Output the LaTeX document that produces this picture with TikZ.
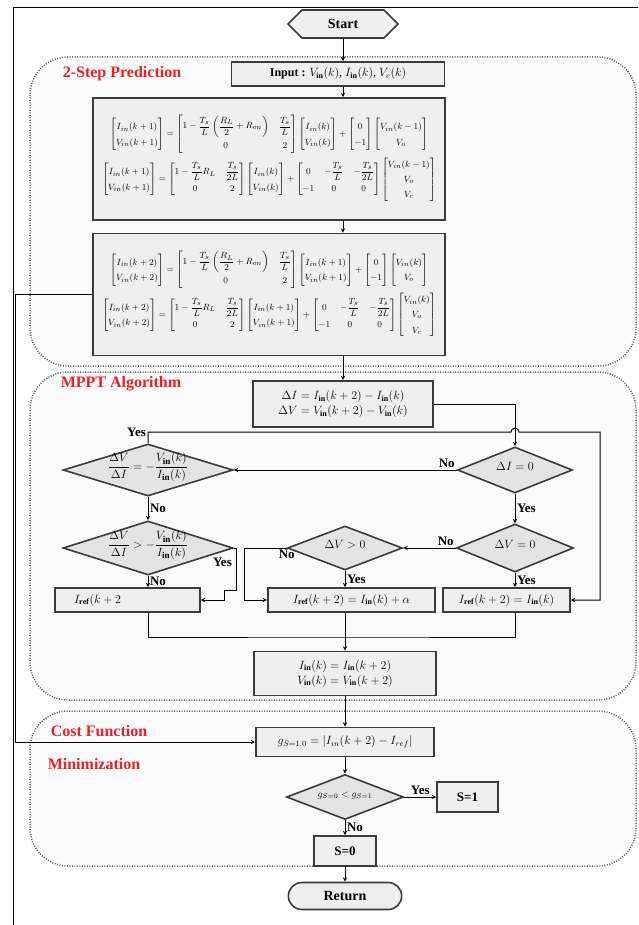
\documentclass[tikz,border=0pt]{standalone}
\usepackage{amsmath}
\usepackage{fontspec}
\setmainfont{Liberation Serif}
\usetikzlibrary{shapes, arrows, calc}

\definecolor{boxcol}{HTML}{EFEFEF}
\definecolor{diacol}{HTML}{E4E4E4}
\definecolor{zonecol}{HTML}{FBFBFB}
\definecolor{edgecol}{HTML}{3A3A3A}
\definecolor{labcol}{HTML}{E8202A}
\tikzstyle{zone} = [draw=gray!75!black, line width=1.5pt, dash pattern=on 1pt off 1.5pt, rounded corners=38pt, fill=zonecol]
\tikzstyle{proc} = [rectangle, draw=edgecol, line width=1.6pt, fill=boxcol, inner sep=2pt, align=center, font=\fontsize{12}{15}\selectfont]
\tikzstyle{eqn} = [proc, minimum width=352pt, minimum height=122pt, font=\fontsize{9.5}{11}\selectfont, execute at begin node={\renewcommand{\arraystretch}{1.4}}]
\tikzstyle{decision} = [diamond, draw=edgecol, line width=1.6pt, fill=diacol, inner sep=0pt, font=\fontsize{13}{15}\selectfont]
\tikzstyle{term} = [draw=edgecol, line width=1.6pt, fill=boxcol, minimum width=110pt, minimum height=28pt, font=\fontsize{14}{16}\selectfont\bfseries]
\tikzstyle{lbl} = [text=labcol, font=\fontsize{16}{18}\selectfont\bfseries]
\tikzstyle{yn} = [font=\fontsize{13}{15}\selectfont\bfseries, inner sep=1.5pt]
\tikzstyle{arrow} = [line width=1pt,->,>=stealth]
\tikzstyle{line} = [line width=1pt]
\newcommand{\dtext}[1]{\smash{\makebox[0pt]{#1}}}

\begin{document}
\begin{tikzpicture}[x=1pt, y=-1pt, node distance=50pt]
\useasboundingbox (0,0) rectangle (638,925);

%Frame and zones
\draw [line] (13,925) -- (13,8) -- (638,8);
\draw [zone] (30,57) rectangle (636,366);
\draw [zone] (30,372) rectangle (636,700);
\draw [zone] (30,711) rectangle (636,866);

%2-Step Prediction
\node (start) [term, signal, signal to=west and east] at (343,24) {Start};
\node (input) [proc, below of=start, xshift=-5pt, minimum width=213pt, minimum height=24pt] {\textbf{Input :} $V_{\mathbf{in}}(k)$, $I_{\mathbf{in}}(k)$, $V_e(k)$};
\node (lpred) [lbl, left of=input, xshift=-166pt] {2-Step Prediction};
\node (eq1) [eqn, below of=input, xshift=-69pt, yshift=-35pt] {%
$\begin{bmatrix} I_{in}(k+1)\\ V_{in}(k+1)\end{bmatrix}=\begin{bmatrix}1-\dfrac{T_s}{L}\left(\dfrac{R_L}{2}+R_{on}\right) & \dfrac{T_s}{L}\\ 0 & 2\end{bmatrix}\begin{bmatrix} I_{in}(k)\\ V_{in}(k)\end{bmatrix}+\begin{bmatrix}0\\-1\end{bmatrix}\begin{bmatrix}V_{in}(k-1)\\ V_o\end{bmatrix}$\\[2pt]
$\begin{bmatrix} I_{in}(k+1)\\ V_{in}(k+1)\end{bmatrix}=\begin{bmatrix}1-\dfrac{T_s}{L}R_L & \dfrac{T_s}{2L}\\ 0 & 2\end{bmatrix}\begin{bmatrix} I_{in}(k)\\ V_{in}(k)\end{bmatrix}+\begin{bmatrix}0 & -\dfrac{T_s}{L} & -\dfrac{T_s}{2L}\\ -1 & 0 & 0\end{bmatrix}\begin{bmatrix}V_{in}(k-1)\\ V_o\\ V_c\end{bmatrix}$};
\node (eq2) [eqn, below of=eq1, yshift=-85.5pt] {%
$\begin{bmatrix} I_{in}(k+2)\\ V_{in}(k+2)\end{bmatrix}=\begin{bmatrix}1-\dfrac{T_s}{L}\left(\dfrac{R_L}{2}+R_{on}\right) & \dfrac{T_s}{L}\\ 0 & 2\end{bmatrix}\begin{bmatrix} I_{in}(k+1)\\ V_{in}(k+1)\end{bmatrix}+\begin{bmatrix}0\\-1\end{bmatrix}\begin{bmatrix}V_{in}(k)\\ V_o\end{bmatrix}$\\[2pt]
$\begin{bmatrix} I_{in}(k+2)\\ V_{in}(k+2)\end{bmatrix}=\begin{bmatrix}1-\dfrac{T_s}{L}R_L & \dfrac{T_s}{2L}\\ 0 & 2\end{bmatrix}\begin{bmatrix} I_{in}(k+1)\\ V_{in}(k+1)\end{bmatrix}+\begin{bmatrix}0 & -\dfrac{T_s}{L} & -\dfrac{T_s}{2L}\\ -1 & 0 & 0\end{bmatrix}\begin{bmatrix}V_{in}(k)\\ V_o\\ V_c\end{bmatrix}$};

\draw [arrow] (start.south) -- (start.south |- input.north);
\draw [arrow] (input.south -| start) -- (eq1.north -| start);
\draw [arrow] (eq1.south -| start) -- (eq2.north -| start);

%MPPT Algorithm
\node (dibox) [proc, below of=eq2, xshift=74pt, yshift=-59.5pt, minimum width=180pt, minimum height=46pt] {$\Delta I = I_{\mathbf{in}}(k+2) - I_{\mathbf{in}}(k)$\\ $\Delta V = V_{\mathbf{in}}(k+2) - V_{\mathbf{in}}(k)$};
\node (lmppt) [lbl, left of=dibox, xshift=-172pt, yshift=20pt] {MPPT Algorithm};
\node (di0) [decision, below of=dibox, xshift=172pt, yshift=-16pt, minimum width=115pt, minimum height=46pt] {\dtext{$\Delta I=0$}};
\node (d1) [decision, left of=di0, xshift=-317pt, minimum width=170pt, minimum height=52pt] {\dtext{$\dfrac{\Delta V}{\Delta I} = -\dfrac{V_{\mathbf{in}}(k)}{I_{\mathbf{in}}(k)}$}};
\node (d2) [decision, below of=d1, yshift=-28pt, minimum width=170pt, minimum height=54pt] {\dtext{$\dfrac{\Delta V}{\Delta I} > -\dfrac{V_{\mathbf{in}}(k)}{I_{\mathbf{in}}(k)}$}};
\node (dv0) [decision, below of=di0, yshift=-28pt, minimum width=117pt, minimum height=48pt] {\dtext{$\Delta V=0$}};
\node (dvp) [decision, left of=dv0, xshift=-120pt, minimum width=115pt, minimum height=44pt] {\dtext{$\Delta V>0$}};
\node (bl) [proc, below of=d2, xshift=-20.5pt, yshift=-2pt, minimum width=145pt, minimum height=24pt, inner sep=0pt] {$I_{\mathbf{ref}}(k+2$\hspace{60pt}};
\node (bm) [proc, below of=dvp, xshift=6.5pt, yshift=-2pt, minimum width=167pt, minimum height=24pt, inner sep=0pt] {$I_{\mathbf{ref}}(k+2)=I_{\mathbf{in}}(k)+\alpha$};
\node (br) [proc, below of=dv0, xshift=-8.5pt, yshift=-2pt, minimum width=127pt, minimum height=24pt, inner sep=0pt] {$I_{\mathbf{ref}}(k+2)=I_{\mathbf{in}}(k)$};
\node (upd) [proc, below of=bm, xshift=-6.5pt, yshift=-23.5pt, minimum width=182pt, minimum height=44pt] {$I_{\mathbf{in}}(k)=I_{\mathbf{in}}(k+2)$\\ $V_{\mathbf{in}}(k)=V_{\mathbf{in}}(k+2)$};

\draw [arrow] (eq2.south -| start) -- (dibox.north -| start);
\draw [arrow] (dibox.east) -| (di0.north);
\draw [arrow] (di0.west) node [yn, above left] (no1) {No} -- (d1.east);
\draw [arrow] (di0.south) -- node [yn, right] (yes2) {Yes} (dv0.north);
\draw [arrow] (d1.south) -- node [yn, right] (no2) {No} (d2.north);
\draw [arrow] (d2.south) -- node [yn, right] (no3) {No} (d2.south |- bl.north);
\coordinate (yesr) at (600,432);
\draw [arrow] (d1.north) -- (d1.north |- yesr) node [yn, left] (yes1) {Yes} -- ($(di0.north |- yesr)+(-4,0)$) arc [start angle=180, end angle=0, radius=4pt] -- (yesr) |- (br.east);
\coordinate (yj) at (236,590);
\draw [arrow] (d2.east) node [yn, below left, yshift=-8pt] (yes3) {Yes} -| (yj) -- ++(-12,0) |- (bl.east);
\draw [arrow] (dv0.west) node [yn, above left] (no4) {No} -- (dvp.east);
\draw [arrow] (dv0.south) -- node [yn, right] (yes4) {Yes} (dv0.south |- br.north);
\draw [arrow] (dvp.south) -- node [yn, right] (yes5) {Yes} (dvp.south |- bm.north);
\coordinate (nj) at (244,548);
\draw [arrow] (dvp.west) node [yn, below] (no5) {No} -- (nj) |- (bm.west);
\coordinate (mrg) at (345,637);
\draw [line] (bl.south -| d2.south) |- (mrg) -| (br.south -| dv0.south);
\draw [line] (bm.south -| mrg) -- (mrg);
\draw [arrow] (mrg) -- (upd.north);

%Cost Function Minimization
\node (cost) [proc, below of=upd, yshift=-18.5pt, minimum width=178pt, minimum height=29pt] {$g_{S=1,0}=\left|I_{in}(k+2)-I_{ref}\right|$};
\node (lcost) [lbl, left of=cost, xshift=-196pt, yshift=11pt] {Cost Function};
\node (lmin) [lbl, below of=lcost, xshift=-5pt, yshift=17pt] {Minimization};
\node (ds) [decision, below of=cost, yshift=-5pt, minimum width=117pt, minimum height=45pt, font=\fontsize{10}{12}\selectfont] {\dtext{$g_{S=0}<g_{S=1}$}};
\node (s1) [proc, right of=ds, xshift=72.5pt, minimum width=61pt, minimum height=30pt, font=\fontsize{13}{15}\selectfont\bfseries] {S=1};
\node (s0) [proc, below of=ds, yshift=-4pt, minimum width=62pt, minimum height=30pt, font=\fontsize{13}{15}\selectfont\bfseries] {S=0};
\node (ret) [term, rounded rectangle, below of=s0, yshift=5pt, minimum width=120pt, minimum height=27pt] {Return};

\draw [arrow] (upd.south) -- (cost.north);
\draw [arrow] (cost.south) -- (ds.north);
\draw [arrow] (ds.east) -- node [yn, above] (yes6) {Yes} (s1.west);
\draw [arrow] (ds.south) -- node [yn, right] (no6) {No} (s0.north);
\draw [arrow] (s0.south) -- (ret.north);
\draw [arrow] (eq2.west) -- ++(-77,0) |- (cost.west);
\end{tikzpicture}
\end{document}
